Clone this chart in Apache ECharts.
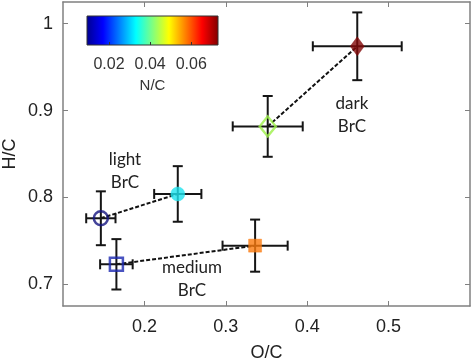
<!DOCTYPE html>
<html><head><meta charset="utf-8">
<script src="https://cdn.jsdelivr.net/npm/echarts@6/dist/echarts.min.js"></script>
<style>html,body{margin:0;padding:0;background:#fff}#c{width:474px;height:363px}</style>
</head><body><div id="c"></div>
<script>
// ---- data ----
const pointNames = ['light BrC start', 'light BrC end', 'medium BrC start', 'medium BrC end', 'dark BrC start', 'dark BrC end'];
const oc    = [0.1465, 0.241, 0.1656, 0.336, 0.3515, 0.4615];
const hc    = [0.776, 0.804, 0.723, 0.7445, 0.8818, 0.974];
const ocErr = [0.018, 0.029, 0.020, 0.040, 0.043, 0.0546];
const hcErr = [0.031, 0.032, 0.029, 0.030, 0.035, 0.039];
const nc    = [0.011, 0.035, 0.016, 0.059, 0.045, 0.072];
const pairs = [[0, 1], [2, 3], [4, 5]];
const ocTicks = [0.2, 0.3, 0.4, 0.5];
const hcTicks = [0.7, 0.8, 0.9, 1];
const ncTicks = [0.02, 0.04, 0.06];
const ncRange = [0.0093, 0.073];
const annotations = ['light\nBrC', 'medium\nBrC', 'dark\nBrC'];

// ---- styles ----
const markerStyles = [
  {symbol: 'circle', size: 14, hollow: true, color: '#14147f'},
  {symbol: 'circle', size: 14, hollow: false, color: '#1ee4ef'},
  {symbol: 'rect', size: 13, hollow: true, color: '#1c28b0'},
  {symbol: 'rect', size: 13, hollow: false, color: '#fb7a0e'},
  {symbol: 'diamond', size: [16, 20], hollow: true, color: '#9cf048'},
  {symbol: 'diamond', size: [14, 19], hollow: false, color: '#820808'}
];
const annotPos = [[125, 171], [192, 279], [352, 115]];
const jet = [
  {offset: 0, color: '#00008f'}, {offset: 0.125, color: '#0000ff'},
  {offset: 0.375, color: '#00ffff'}, {offset: 0.625, color: '#ffff00'},
  {offset: 0.875, color: '#ff0000'}, {offset: 1, color: '#800000'}
];
const axisGray = '#808080';
const txt = '#222';
const FONT = 'Liberation Sans, Arial, sans-serif';

const chart = echarts.init(document.getElementById('c'));

const series = [];
pairs.forEach(function (p) {
  series.push({
    type: 'line', xAxisIndex: 0, yAxisIndex: 0, z: 2, silent: true,
    symbol: 'none',
    data: p.map(function (i) { return [oc[i], hc[i]]; }),
    lineStyle: {color: '#111', width: 2, type: [4, 2]}
  });
});
series.push({
  type: 'custom', xAxisIndex: 0, yAxisIndex: 0, z: 3, silent: true,
  data: oc.map(function (v, i) { return [v, hc[i], ocErr[i], hcErr[i]]; }),
  renderItem: function (params, api) {
    const x = api.value(0), y = api.value(1), ex = api.value(2), ey = api.value(3);
    const l = api.coord([x - ex, y]), r = api.coord([x + ex, y]);
    const t = api.coord([x, y + ey]), b = api.coord([x, y - ey]);
    const cap = 5;
    const st = {stroke: '#151515', lineWidth: 2};
    const ln = function (x1, y1, x2, y2) { return {type: 'line', shape: {x1: x1, y1: y1, x2: x2, y2: y2}, style: st}; };
    return {type: 'group', children: [
      ln(l[0], l[1], r[0], r[1]), ln(l[0], l[1] - cap, l[0], l[1] + cap), ln(r[0], r[1] - cap, r[0], r[1] + cap),
      ln(t[0], t[1], b[0], b[1]), ln(t[0] - cap, t[1], t[0] + cap, t[1]), ln(b[0] - cap, b[1], b[0] + cap, b[1])
    ]};
  }
});
oc.forEach(function (v, i) {
  const m = markerStyles[i];
  series.push({
    type: 'scatter', name: pointNames[i], xAxisIndex: 0, yAxisIndex: 0, z: 4, silent: true,
    symbol: m.symbol, symbolSize: m.size,
    data: [[v, hc[i], nc[i]]],
    itemStyle: m.hollow ? {color: 'rgba(255,255,255,0)', borderColor: m.color, borderWidth: 2.5}
                        : {color: m.color, borderColor: m.color, borderWidth: 0.5}
  });
});

const baseAxis = {
  axisLine: {show: true, onZero: false, lineStyle: {color: axisGray, width: 1.5}},
  axisTick: {show: true, inside: true, length: 5, lineStyle: {color: axisGray, width: 1}},
  splitLine: {show: false}
};

chart.setOption({
  animation: false,
  backgroundColor: '#fff',
  grid: [
    {left: 63, right: 4, top: 2, bottom: 57, containLabel: false, outerBoundsMode: 'none'},
    {left: 87, top: 16, width: 131, height: 29, show: true, outerBoundsMode: 'none',
     backgroundColor: new echarts.graphic.LinearGradient(0, 0, 1, 0, jet),
     borderColor: '#333', borderWidth: 1, z: 5}
  ],
  xAxis: [
    Object.assign({}, baseAxis, {
      gridIndex: 0, type: 'value', position: 'bottom', min: 0.1, max: 0.6,
      axisTick: Object.assign({}, baseAxis.axisTick, {customValues: ocTicks}),
      axisLabel: {customValues: ocTicks, color: txt, fontSize: 18, fontFamily: FONT, margin: 12},
      name: 'O/C', nameLocation: 'middle', nameGap: 38,
      nameTextStyle: {color: txt, fontSize: 18, fontFamily: FONT}
    }),
    Object.assign({}, baseAxis, {
      gridIndex: 0, type: 'value', position: 'top', min: 0.1, max: 0.6,
      axisTick: Object.assign({}, baseAxis.axisTick, {customValues: ocTicks}),
      axisLabel: {show: false}
    }),
    {
      gridIndex: 1, type: 'value', position: 'bottom', min: ncRange[0], max: ncRange[1],
      axisLine: {show: false}, splitLine: {show: false},
      axisTick: {show: true, inside: true, length: 3, customValues: ncTicks, lineStyle: {color: '#333'}},
      axisLabel: {customValues: ncTicks, color: '#333', fontSize: 16, fontFamily: FONT, margin: 12},
      name: 'N/C', nameLocation: 'middle', nameGap: 33,
      nameTextStyle: {color: '#333', fontSize: 15, fontFamily: FONT}, z: 6
    }
  ],
  yAxis: [
    Object.assign({}, baseAxis, {
      gridIndex: 0, type: 'value', position: 'left', min: 0.675, max: 1.025,
      axisTick: Object.assign({}, baseAxis.axisTick, {customValues: hcTicks}),
      axisLabel: {customValues: hcTicks, color: txt, fontSize: 18, fontFamily: FONT, margin: 10},
      name: 'H/C', nameLocation: 'middle', nameGap: 44, nameMoveOverlap: false,
      nameTextStyle: {color: txt, fontSize: 18, fontFamily: FONT}
    }),
    Object.assign({}, baseAxis, {
      gridIndex: 0, type: 'value', position: 'right', min: 0.675, max: 1.025,
      axisTick: Object.assign({}, baseAxis.axisTick, {customValues: hcTicks}),
      axisLabel: {show: false}
    }),
    {gridIndex: 1, type: 'value', min: 0, max: 1, show: false}
  ],
  graphic: annotations.map(function (t, i) {
    return {type: 'text', x: annotPos[i][0], y: annotPos[i][1], z: 10, silent: true,
      style: {text: t, fill: '#222', font: '17px Lato, "Open Sans", sans-serif',
        align: 'center', verticalAlign: 'middle', lineHeight: 23}};
  }),
  series: series
});
</script></body></html>
